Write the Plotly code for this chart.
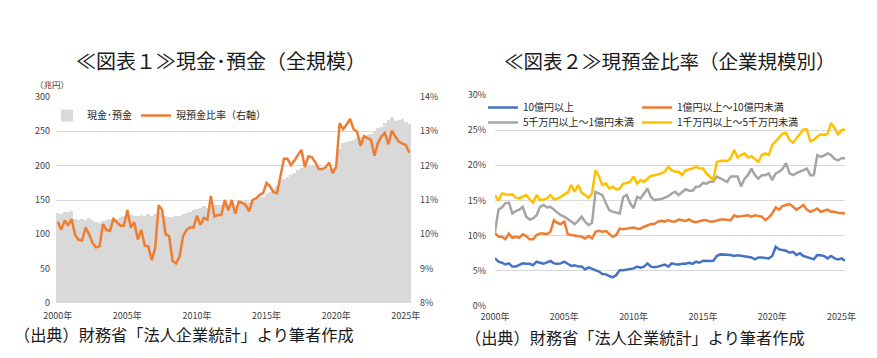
import plotly.graph_objects as go

W, H = 877, 358
FONT = "Noto Sans CJK JP"

# ---- data ----
year_labels = ["2000年", "2005年", "2010年", "2015年", "2020年", "2025年"]
label_idx = [0, 20, 40, 60, 80, 100]

# Figure 1: cash & deposits (trillion yen), quarterly 2000Q1-2025Q2
cash_deposits = [
    131, 130, 133, 132,
    134, 122, 121, 123,
    121, 124, 121, 118,
    117, 119, 121, 122,
    121, 123, 125, 126,
    137, 128, 127, 126,
    128, 127, 129, 127,
    130, 133, 132, 127,
    125, 125, 126, 127,
    129, 131, 133, 135,
    137, 139, 141, 139,
    141, 142, 143, 142,
    143, 142, 144, 143,
    145, 146, 148, 147,
    150, 152, 154, 155,
    159, 162, 166, 170,
    178, 180, 183, 186,
    190, 193, 196, 198,
    201, 200, 199, 197,
    196, 198, 195, 197,
    198, 225, 233, 235,
    236, 238, 240, 242,
    241, 244, 246, 250,
    255, 257, 262, 266,
    271, 265, 266, 268,
    264, 261,
]
cash_ratio = [
    10.37, 10.13, 10.4, 10.27, 10.44, 9.98, 9.84, 9.82, 10.2, 10.0,
    9.75, 9.62, 9.65, 10.3, 10.13, 10.1, 10.45, 10.35, 10.25, 10.25,
    10.7, 10.2, 10.35, 9.85, 10.13, 9.67, 9.65, 9.25, 9.6, 10.85,
    10.7, 10.0, 9.95, 9.22, 9.15, 9.35, 9.95, 10.13, 10.2, 10.2,
    10.54, 10.28, 10.48, 10.43, 11.12, 10.52, 10.56, 10.56, 11.0, 10.7,
    11.0, 10.6, 10.95, 10.92, 10.85, 10.67, 11.0, 11.05, 11.15, 11.2,
    11.5, 11.4, 11.23, 11.2, 11.7, 12.2, 12.2, 12.02, 12.15, 12.3,
    12.46, 11.96, 12.27, 12.25, 12.1, 11.9, 11.9, 11.95, 12.09, 11.78,
    11.96, 13.24, 13.06, 13.2, 13.36, 13.06, 12.99, 12.58, 12.86, 12.8,
    12.75, 12.29, 12.66, 12.85, 12.95, 12.62, 13.02, 12.85, 12.7, 12.64,
    12.6, 12.38,
]

# Figure 2: cash ratio by company size (%)
size_names = ["10億円以上", "1億円以上～10億円未満", "5千万円以上～1億円未満", "1千万円以上～5千万円未満"]
size_colors = ["#4472C4", "#ED7D31", "#A5A5A5", "#FFC000"]
ratio_large = [
    6.77, 6.3, 6.15, 5.9, 6.06, 5.6, 5.6, 5.8, 6.06, 6.0,
    6.0, 5.8, 6.3, 6.15, 6.0, 6.2, 6.4, 6.06, 6.0, 6.06,
    6.3, 6.0, 5.7, 5.8, 5.6, 5.6, 5.2, 5.5, 5.3, 5.1,
    4.9, 4.55, 4.5, 4.26, 4.07, 4.4, 5.1, 5.1, 5.2, 5.3,
    5.35, 5.6, 5.45, 5.6, 6.06, 5.6, 5.5, 5.6, 5.7, 5.9,
    5.6, 6.06, 5.95, 5.9, 6.0, 6.0, 6.15, 6.0, 6.3, 6.15,
    6.44, 6.4, 6.4, 6.44, 7.1, 7.34, 7.3, 7.25, 7.25, 7.1,
    7.2, 7.15, 7.1, 7.0, 6.9, 6.63, 6.9, 6.9, 6.85, 6.77,
    7.1, 8.43, 8.05, 7.95, 7.86, 7.57, 7.7, 7.25, 7.5, 7.1,
    6.9, 6.8, 6.63, 7.25, 7.2, 7.1, 6.77, 7.1, 6.77, 6.63,
    6.77, 6.44,
]
ratio_mid = [
    10.4, 9.85, 9.85, 9.5, 10.3, 9.7, 9.85, 9.7, 10.2, 9.94,
    9.5, 9.5, 10.1, 10.3, 10.3, 10.2, 10.56, 12.2, 11.8, 11.65,
    12.0, 10.2, 10.1, 10.0, 9.85, 9.85, 9.6, 9.94, 9.6, 10.56,
    10.7, 10.56, 10.65, 10.3, 9.85, 10.1, 11.0, 10.9, 11.0, 11.1,
    11.17, 11.0, 11.0, 11.27, 11.5, 11.65, 11.65, 12.0, 12.1, 12.0,
    12.2, 12.0, 12.0, 12.3, 12.2, 12.1, 12.3, 12.0, 11.9, 12.1,
    12.2, 12.2, 12.0, 12.0, 12.2, 12.3, 12.3, 12.3, 12.2, 12.9,
    12.7, 12.75, 12.8, 12.9, 12.7, 12.9, 12.8, 12.7, 12.2, 12.6,
    13.16, 14.0, 13.7, 14.2, 14.35, 14.5, 14.1, 13.7, 14.0, 14.35,
    13.7, 13.4, 13.6, 13.87, 13.4, 13.6, 13.7, 13.4, 13.4, 13.26,
    13.2, 13.16,
]
ratio_small = [
    10.56, 13.7, 14.0, 14.6, 14.7, 13.16, 13.5, 13.7, 14.1, 12.7,
    12.3, 12.45, 12.9, 14.1, 14.35, 14.0, 14.1, 13.7, 13.26, 12.9,
    12.7, 12.3, 12.0, 11.65, 12.1, 12.7, 12.0, 11.5, 11.84, 16.24,
    16.0, 15.77, 14.6, 13.6, 13.4, 13.26, 13.16, 15.5, 15.77, 14.6,
    13.9, 15.5, 15.3, 16.0, 16.7, 15.5, 15.06, 15.15, 15.2, 15.4,
    15.6, 16.0, 16.24, 15.77, 16.24, 16.6, 16.4, 16.4, 16.95, 17.0,
    17.5, 17.4, 17.66, 17.7, 18.4, 18.1, 17.9, 17.66, 18.4, 18.4,
    18.4, 17.0, 18.1, 18.6, 19.55, 18.6, 18.1, 18.6, 18.6, 18.85,
    17.9, 18.85, 19.1, 19.5, 20.3, 18.85, 18.6, 18.9, 19.1, 19.3,
    19.55, 18.6, 18.6, 21.46, 21.2, 21.4, 21.7, 21.46, 20.9, 20.7,
    21.0, 21.0,
]
ratio_micro = [
    15.77, 14.96, 16.0, 15.9, 15.77, 15.9, 15.4, 15.3, 15.5, 15.77,
    15.15, 14.7, 15.77, 15.06, 15.15, 15.3, 15.77, 15.15, 15.3, 15.5,
    15.9, 16.1, 17.2, 16.24, 17.2, 16.1, 15.77, 15.4, 16.0, 19.3,
    18.4, 17.2, 17.4, 16.7, 16.95, 16.57, 16.7, 17.4, 17.5, 17.66,
    18.4, 17.4, 17.9, 17.66, 18.1, 18.5, 18.6, 18.7, 18.85, 19.1,
    19.8, 19.3, 19.1, 19.1, 18.6, 19.3, 19.4, 19.55, 19.8, 19.6,
    19.55, 18.85, 18.4, 17.9, 20.5, 20.6, 20.7, 20.6, 21.0, 22.2,
    21.1, 21.46, 21.7, 21.1, 21.3, 20.9, 20.5, 21.46, 21.7, 21.46,
    22.9, 23.4, 23.9, 24.5, 24.6, 23.6, 23.2, 23.8, 24.4, 25.1,
    25.1, 23.4, 23.6, 24.1, 24.4, 24.3, 24.5, 26.0, 25.3, 24.4,
    25.0, 25.1,
]

n = len(cash_deposits)
idx = list(range(n))

def px_x(p):
    return p / W

def px_y(p):
    return 1 - p / H

fig = go.Figure()

fig.add_trace(go.Bar(
    x=idx, y=cash_deposits, name="現金･預金", marker_color="#D9D9D9",
    marker_line_width=0, width=1.0, xaxis="x", yaxis="y", legend="legend",
))
fig.add_trace(go.Scatter(
    x=idx, y=cash_ratio, name="現預金比率（右軸）", mode="lines",
    line=dict(color="#ED7D31", width=2.5), xaxis="x", yaxis="y2", legend="legend2",
))

right_series = [ratio_large, ratio_mid, ratio_small, ratio_micro]
right_legends = ["legend3", "legend4", "legend5", "legend6"]
for name, col, vals, lg in zip(size_names, size_colors, right_series, right_legends):
    fig.add_trace(go.Scatter(
        x=idx, y=vals, name=name, mode="lines",
        line=dict(color=col, width=2.5), xaxis="x2", yaxis="y3", legend=lg,
    ))

tickfont = dict(family=FONT, size=9, color="#404040")
legfont = dict(family=FONT, size=10, color="#262626")

def leg(xp, yp):
    return dict(x=px_x(xp), y=px_y(yp), xanchor="left", yanchor="top",
                orientation="h", bgcolor="rgba(0,0,0,0)", borderwidth=0,
                font=legfont, itemwidth=30)

fig.update_layout(
    template="none",
    width=W, height=H,
    margin=dict(l=0, r=0, t=0, b=0, autoexpand=False),
    paper_bgcolor="white", plot_bgcolor="rgba(0,0,0,0)",
    bargap=0,
    font=dict(family=FONT),
    xaxis=dict(domain=[px_x(56), px_x(411)], range=[-0.5, n - 0.5],
               tickvals=label_idx, ticktext=year_labels, showgrid=False,
               zeroline=False, ticks="", showline=False, automargin=False,
               tickfont=tickfont, anchor="y", ticklabelstandoff=6),
    yaxis=dict(domain=[px_y(303), px_y(97)], range=[0, 300], dtick=50,
               gridcolor="#D9D9D9", gridwidth=1, zeroline=False, ticks="",
               showline=False, automargin=False,
               tickfont=tickfont, anchor="x", ticklabelstandoff=5),
    yaxis2=dict(overlaying="y", side="right", range=[8, 14], dtick=1,
                ticksuffix="%", showgrid=False, zeroline=False, ticks="",
                showline=False, automargin=False,
                tickfont=tickfont, anchor="x", ticklabelstandoff=8),
    xaxis2=dict(domain=[px_x(495), px_x(845)], range=[0, n - 1],
                tickvals=label_idx, ticktext=year_labels, showgrid=False,
                zeroline=False, ticks="", showline=False, automargin=False,
                tickfont=tickfont, anchor="y3", ticklabelstandoff=4),
    yaxis3=dict(domain=[px_y(306), px_y(95)], range=[0, 30], dtick=5,
                ticksuffix="%", gridcolor="#D9D9D9", gridwidth=1,
                zeroline=False, ticks="", showline=False, automargin=False,
                tickfont=tickfont, anchor="x2", ticklabelstandoff=8),
    legend=leg(47, 101),
    legend2=leg(136, 101),
    legend3=leg(483, 93),
    legend4=leg(637, 93),
    legend5=leg(483, 108),
    legend6=leg(637, 108),
    showlegend=True,
)

annotations = [
    dict(text="≪図表１≫現金･預金（全規模）", x=px_x(221), y=px_y(61),
         font=dict(family=FONT, size=20, color="#1a1a1a")),
    dict(text="≪図表２≫現預金比率（企業規模別）", x=px_x(670), y=px_y(61),
         font=dict(family=FONT, size=19.5, color="#1a1a1a")),
    dict(text="（出典）財務省「法人企業統計」より筆者作成", x=px_x(12), y=px_y(334),
         xanchor="left", font=dict(family=FONT, size=16.2, color="#1a1a1a")),
    dict(text="（出典）財務省「法人企業統計」より筆者作成", x=px_x(463), y=px_y(337),
         xanchor="left", font=dict(family=FONT, size=16.2, color="#1a1a1a")),
    dict(text="（兆円）", x=px_x(33), y=px_y(84), xanchor="left",
         font=dict(family=FONT, size=8.5, color="#404040")),
]
for a in annotations:
    a.setdefault("xanchor", "center")
    a.update(xref="paper", yref="paper", showarrow=False, yanchor="middle")
    fig.add_annotation(**a)

fig.write_html("out.html", post_script="document.body.style.margin='0px';",
               config={"displayModeBar": False})
